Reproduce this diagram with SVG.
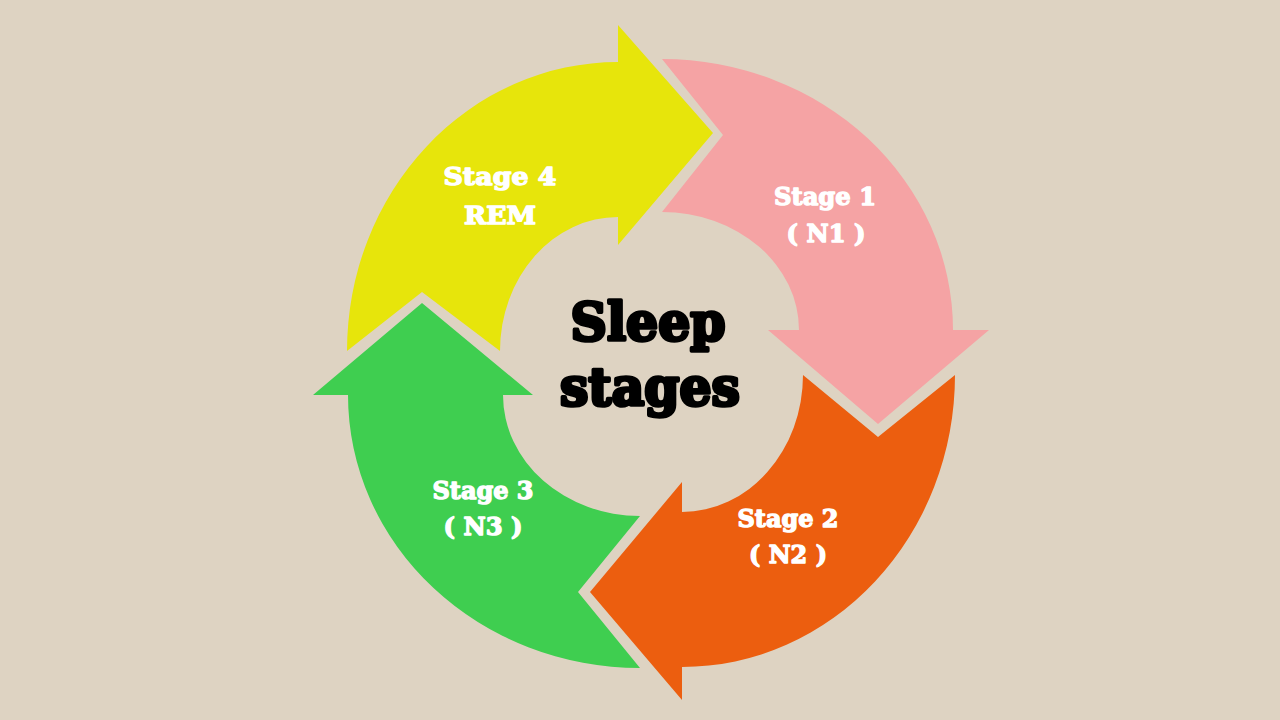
<svg xmlns="http://www.w3.org/2000/svg" width="1280" height="720" viewBox="0 0 1280 720">
<style>
.title{font-family:"DejaVu Serif","Liberation Serif",serif;font-weight:bold;font-size:52px;fill:#000;stroke:#000;stroke-width:3.6;stroke-linejoin:round;text-anchor:middle}
.lbl{font-family:"DejaVu Serif","Liberation Serif",serif;font-weight:bold;font-size:25px;fill:#fff;stroke:#fff;stroke-width:1.4;stroke-linejoin:round;text-anchor:middle}
</style>
<rect width="1280" height="720" fill="#DED3C2"/>
<g id="connectors"></g>
<g id="stage1">
<path fill="#F5A3A4" d="M662,59 A291,271 0 0 1 953,330 L989,330 L878,424 L768,330 L799,330 A137,118 0 0 0 662,212 L723,135 Z"/>
<text class="lbl" x="825" y="205" textLength="102" lengthAdjust="spacingAndGlyphs">Stage 1</text>
<text class="lbl" x="826" y="242" textLength="79" lengthAdjust="spacingAndGlyphs">( N1 )</text>
</g>
<g id="stage2">
<path fill="#EC5E0F" d="M955,375 A273,292 0 0 1 682,667 L682,700 L590,592 L682,482 L682,512 A121,137 0 0 0 803,375 L878,437 Z"/>
<text class="lbl" x="788" y="527" textLength="101" lengthAdjust="spacingAndGlyphs">Stage 2</text>
<text class="lbl" x="788" y="563" textLength="78" lengthAdjust="spacingAndGlyphs">( N2 )</text>
</g>
<g id="stage3">
<path fill="#3FCE50" d="M640,668 A292,273 0 0 1 348,395 L313,395 L422,303 L533,395 L503,395 A137,121 0 0 0 640,516 L578,592 Z"/>
<text class="lbl" x="483" y="499" textLength="101" lengthAdjust="spacingAndGlyphs">Stage 3</text>
<text class="lbl" x="483" y="535" textLength="79" lengthAdjust="spacingAndGlyphs">( N3 )</text>
</g>
<g id="stage4">
<path fill="#E7E50B" d="M347,351 A271,289 0 0 1 618,62 L618,25 L713,133 L618,245 L618,217 A118,134 0 0 0 500,351 L422,292 Z"/>
<text class="lbl" x="500" y="185" textLength="113" lengthAdjust="spacingAndGlyphs">Stage 4</text>
<text class="lbl" x="500" y="224" textLength="72" lengthAdjust="spacingAndGlyphs">REM</text>
</g>
<g id="center">
<text class="title" x="648" y="340" textLength="155" lengthAdjust="spacingAndGlyphs">Sleep</text>
<text class="title" x="650" y="405" textLength="180" lengthAdjust="spacingAndGlyphs">stages</text>
</g>
</svg>
